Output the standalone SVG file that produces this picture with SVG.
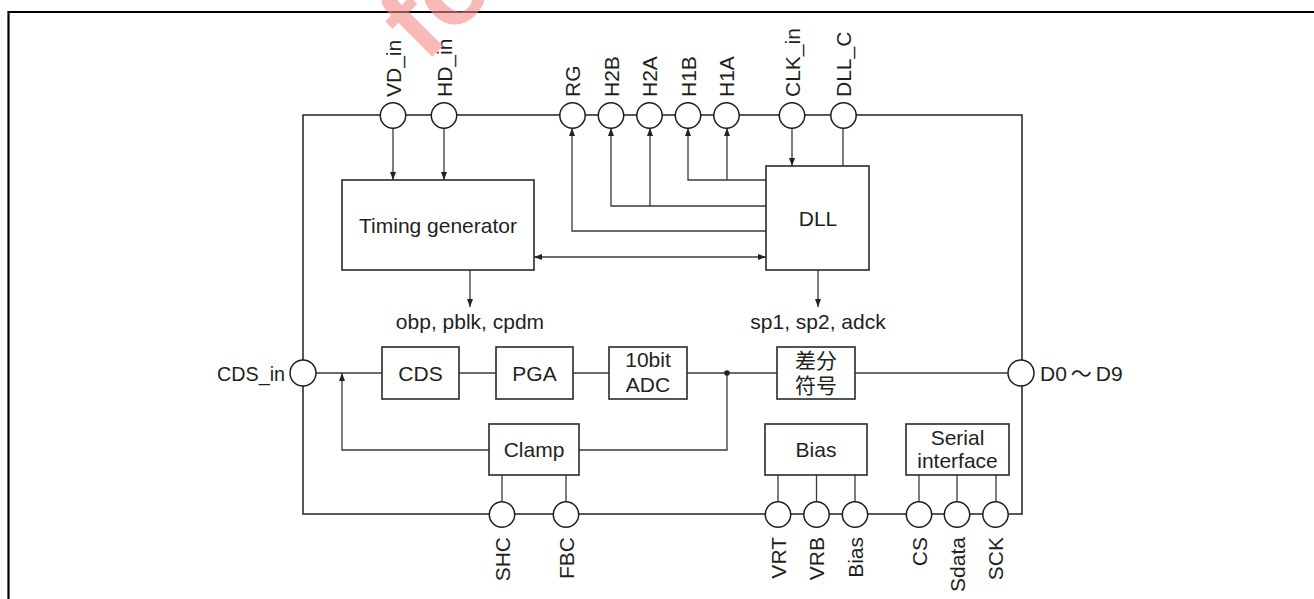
<svg xmlns="http://www.w3.org/2000/svg" width="1314" height="599" viewBox="0 0 1314 599">
<defs>
<style>
.frame{fill:none;stroke:#000;stroke-width:2.2}
.chip{fill:none;stroke:#222;stroke-width:1.5}
.blk{fill:#fff;stroke:#2a2a2a;stroke-width:1.6}
.pin{fill:#fff;stroke:#1e1e1e;stroke-width:1.5}
.w{fill:none;stroke:#3a3a3a;stroke-width:1.3}
.t{font-family:"Liberation Sans",Arial,"Noto Sans CJK SC",sans-serif;font-size:21px;fill:#231f20}
.c{text-anchor:middle}
.wm{font-family:"Liberation Sans",Arial,sans-serif;font-weight:bold;font-size:110px;fill:#f48a8a;fill-opacity:0.6}
</style>
<marker id="ah" viewBox="0 0 8 6" refX="8" refY="3" markerWidth="8" markerHeight="6" markerUnits="userSpaceOnUse" orient="auto-start-reverse">
<path d="M0,0 L8,3 L0,6 z" fill="#222"/>
</marker>
</defs>
<rect width="1314" height="599" fill="#fff"/>
<path class="frame" d="M8.5,599 V12 H1314"/>
<path class="chip" d="M303,115 H1022 V514 H303 Z"/>
<g id="connectors">
<path class="w" d="M393,128 V180" marker-end="url(#ah)"/>
<path class="w" d="M444,128 V180" marker-end="url(#ah)"/>
<path class="w" d="M766,231 H572 V128" marker-end="url(#ah)"/>
<path class="w" d="M766,206 H611 V128" marker-end="url(#ah)"/>
<path class="w" d="M650,206 V128" marker-end="url(#ah)"/>
<path class="w" d="M766,180 H688 V128" marker-end="url(#ah)"/>
<path class="w" d="M727,180 V128" marker-end="url(#ah)"/>
<path class="w" d="M792,128 V166" marker-end="url(#ah)"/>
<path class="w" d="M843,128 V166"/>
<path class="w" d="M534,257 H766" marker-start="url(#ah)" marker-end="url(#ah)"/>
<path class="w" d="M470,270 V307" marker-end="url(#ah)"/>
<path class="w" d="M818,270 V307" marker-end="url(#ah)"/>
<path class="w" d="M316,373 H382 M459,373 H496 M573,373 H609 M687,373 H777 M855,373 H1008"/>
<path class="w" d="M727,373 V450 H579"/>
<path class="w" d="M489,450 H342 V373" marker-end="url(#ah)"/>
<circle cx="727" cy="373" r="2.8" fill="#222"/>
<path class="w" d="M502,475 V502 M566,475 V502 M778,475 V502 M816.5,475 V502 M855,475 V502 M919,475 V502 M957,475 V502 M996,475 V502"/>
</g>
<g id="timing-generator">
<rect class="blk" x="342" y="180" width="192" height="90"/>
<text class="t c" x="438" y="233">Timing generator</text>
</g>
<g id="dll">
<rect class="blk" x="766" y="166" width="103" height="104"/>
<text class="t c" x="818" y="226">DLL</text>
</g>
<text class="t c" x="470" y="329">obp, pblk, cpdm</text>
<text class="t c" x="818" y="329">sp1, sp2, adck</text>
<g id="cds">
<rect class="blk" x="382" y="347" width="77" height="52"/>
<text class="t c" x="420.5" y="380.5">CDS</text>
</g>
<g id="pga">
<rect class="blk" x="496" y="347" width="77" height="52"/>
<text class="t c" x="534.5" y="380.5">PGA</text>
</g>
<g id="adc">
<rect class="blk" x="609" y="347" width="78" height="52"/>
<text class="t c" x="648" y="367">10bit</text>
<text class="t c" x="648" y="392">ADC</text>
</g>
<g id="diff">
<rect class="blk" x="777" y="347" width="78" height="52"/>
<text class="t c" x="816" y="368">差分</text>
<text class="t c" x="816" y="393">符号</text>
</g>
<g id="clamp">
<rect class="blk" x="489" y="424" width="90" height="51"/>
<text class="t c" x="534" y="457">Clamp</text>
</g>
<g id="bias">
<rect class="blk" x="765" y="424" width="102" height="51"/>
<text class="t c" x="816" y="457">Bias</text>
</g>
<g id="serial">
<rect class="blk" x="906" y="424" width="103" height="51"/>
<text class="t c" x="957.5" y="445">Serial</text>
<text class="t c" x="957.5" y="468">interface</text>
</g>
<g id="pin-vd_in"><circle class="pin" cx="393" cy="115.5" r="12.7"/><text class="t" transform="translate(400.5,97) rotate(-90)">VD_in</text></g>
<g id="pin-hd_in"><circle class="pin" cx="444" cy="115.5" r="12.7"/><text class="t" transform="translate(451.5,97) rotate(-90)">HD_in</text></g>
<g id="pin-rg"><circle class="pin" cx="572.5" cy="115.5" r="12.7"/><text class="t" transform="translate(580,97) rotate(-90)">RG</text></g>
<g id="pin-h2b"><circle class="pin" cx="611" cy="115.5" r="12.7"/><text class="t" transform="translate(618.5,97) rotate(-90)">H2B</text></g>
<g id="pin-h2a"><circle class="pin" cx="649.5" cy="115.5" r="12.7"/><text class="t" transform="translate(657,97) rotate(-90)">H2A</text></g>
<g id="pin-h1b"><circle class="pin" cx="688" cy="115.5" r="12.7"/><text class="t" transform="translate(695.5,97) rotate(-90)">H1B</text></g>
<g id="pin-h1a"><circle class="pin" cx="726.5" cy="115.5" r="12.7"/><text class="t" transform="translate(734,97) rotate(-90)">H1A</text></g>
<g id="pin-clk_in"><circle class="pin" cx="792" cy="115.5" r="12.7"/><text class="t" transform="translate(799.5,97) rotate(-90)">CLK_in</text></g>
<g id="pin-dll_c"><circle class="pin" cx="843.5" cy="115.5" r="12.7"/><text class="t" transform="translate(851,97) rotate(-90)">DLL_C</text></g>
<g id="pin-cds_in"><circle class="pin" cx="303" cy="373" r="13"/><text class="t" x="285" y="381" text-anchor="end" textLength="68" lengthAdjust="spacingAndGlyphs">CDS_in</text></g>
<g id="pin-d0d9"><circle class="pin" cx="1021" cy="373" r="13"/><text class="t" x="1040" y="381">D0<tspan dx="4">～</tspan><tspan dx="4">D9</tspan></text></g>
<g id="pin-shc"><circle class="pin" cx="502" cy="514.5" r="12.7"/><text class="t" text-anchor="end" transform="translate(509.5,537) rotate(-90)">SHC</text></g>
<g id="pin-fbc"><circle class="pin" cx="566" cy="514.5" r="12.7"/><text class="t" text-anchor="end" transform="translate(573.5,537) rotate(-90)">FBC</text></g>
<g id="pin-vrt"><circle class="pin" cx="778" cy="514.5" r="12.7"/><text class="t" text-anchor="end" transform="translate(785.5,537) rotate(-90)">VRT</text></g>
<g id="pin-vrb"><circle class="pin" cx="816.5" cy="514.5" r="12.7"/><text class="t" text-anchor="end" transform="translate(824,537) rotate(-90)">VRB</text></g>
<g id="pin-bias"><circle class="pin" cx="855" cy="514.5" r="12.7"/><text class="t" text-anchor="end" transform="translate(862.5,537) rotate(-90)">Bias</text></g>
<g id="pin-cs"><circle class="pin" cx="919" cy="514.5" r="12.7"/><text class="t" text-anchor="end" transform="translate(926.5,537) rotate(-90)">CS</text></g>
<g id="pin-sdata"><circle class="pin" cx="957" cy="514.5" r="12.7"/><text class="t" text-anchor="end" transform="translate(964.5,537) rotate(-90)">Sdata</text></g>
<g id="pin-sck"><circle class="pin" cx="995.5" cy="514.5" r="12.7"/><text class="t" text-anchor="end" transform="translate(1003,537) rotate(-90)">SCK</text></g>
<text class="wm" transform="translate(425,64) rotate(-45)">fo</text>
</svg>
